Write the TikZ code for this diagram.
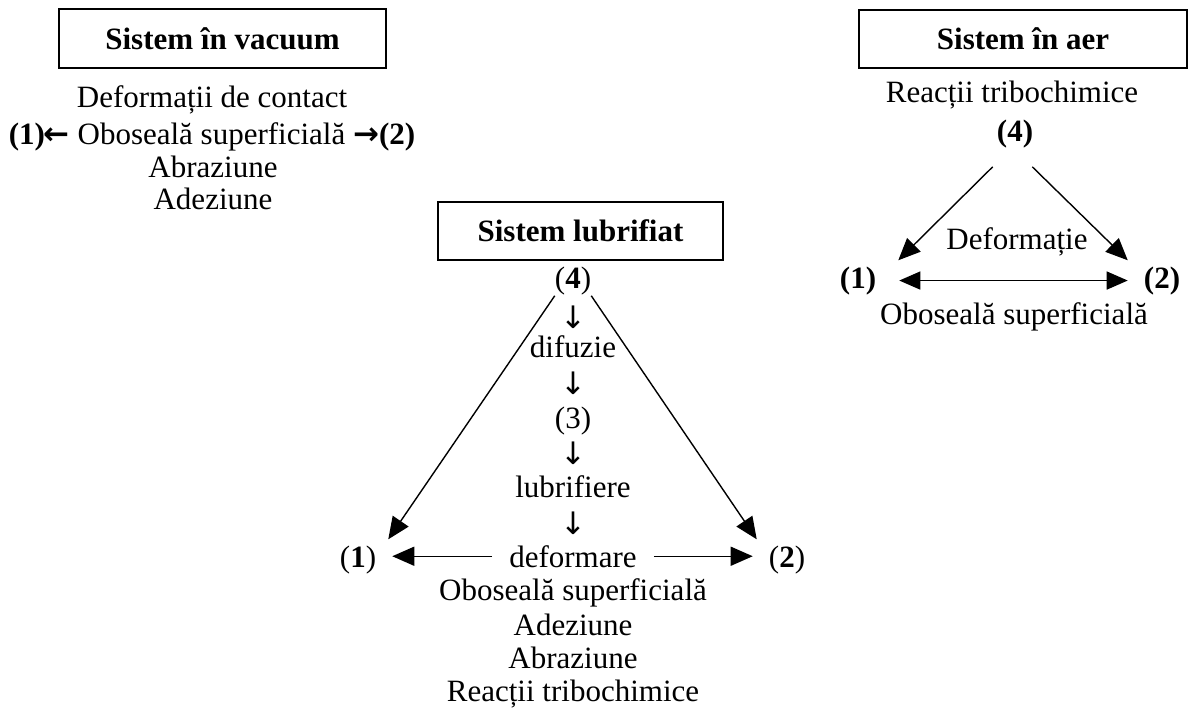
\documentclass[tikz,border=0pt]{standalone}
\usepackage{fontspec}
\setmainfont{Liberation Serif}
\newfontfamily\arrowfont{DejaVu Sans}
\usetikzlibrary{arrows.meta,calc}
\begin{document}
\begin{tikzpicture}[x=1pt,y=-1pt,
  txt/.style={font=\fontsize{31}{36}\selectfont, inner sep=0pt, anchor=base},
  glyph/.style={font=\fontsize{31}{36}\arrowfont, inner sep=0pt, anchor=center},
  titlebox/.style={draw, line width=1.6pt, inner sep=0pt, font=\fontsize{31}{36}\selectfont\bfseries},
  conn/.style={line width=1.4pt, -{Triangle[length=22pt,width=19pt]}},
  dconn/.style={line width=1.4pt, {Triangle[length=21pt,width=18pt]}-{Triangle[length=21pt,width=18pt]}}]
\useasboundingbox (0,0) rectangle (1191,711);

% ---- Sistem in vacuum
\node[titlebox, minimum width=327pt, minimum height=59pt] (vbox) at (222.5,38.5) {Sistem în vacuum};
\node[txt] (vdef) at (212,108) {Deformații de contact};
\node[txt] (vobo) at (212,145) {\textbf{(1)}{\arrowfont\bfseries\kern-1pt←} Oboseală superficială {\arrowfont\bfseries→}\textbf{(2)}};
\node[txt] (vabr) at (213,178) {Abraziune};
\node[txt] (vade) at (213,210) {Adeziune};

% ---- Sistem in aer
\node[titlebox, minimum width=328pt, minimum height=58pt] (abox) at (1023,39) {Sistem în aer};
\node[txt] (areac) at (1012,103) {Reacții tribochimice};
\node[txt] (a4) at (1015,142) {\textbf{(4)}};
\node[txt] (adef) at (1017,250) {Deformație};
\node[txt] (a1) at (858,288) {\textbf{(1)}};
\node[txt] (a2) at (1162,288) {\textbf{(2)}};
\node[txt] (aobo) at (1014,324) {Oboseală superficială};
\draw[conn] ($(a4.south west)+(-4,18)$) -- ($(a1.north east)+(22,-6)$);
\draw[conn] ($(a4.south east)+(-1,18)$) -- ($(a2.north west)+(-16,-6)$);
\draw[dconn, shorten <=23pt, shorten >=16pt] (a1.east) -- (a2.west);

% ---- Sistem lubrifiat
\node[titlebox, minimum width=285pt, minimum height=58pt] (lbox) at (580.5,231) {Sistem lubrifiat};
\node[txt] (l4) at (573,289) {(\textbf{4})};
\node[glyph] (ld1) at (573,317) {↓};
\node[txt] (ldif) at (573,357) {difuzie};
\node[glyph] (ld2) at (573,383) {↓};
\node[txt] (l3) at (573,428) {(3)};
\node[glyph] (ld3) at (573,453) {↓};
\node[txt] (llub) at (573,497) {lubrifiere};
\node[glyph] (ld4) at (573,523) {↓};
\node[txt] (ldef) at (573,567) {deformare};
\node[txt] (l1) at (358,567) {(\textbf{1})};
\node[txt] (l2) at (787,567) {(\textbf{2})};
\node[txt] (lobo) at (573,600) {Oboseală superficială};
\node[txt] (lade) at (573,635) {Adeziune};
\node[txt] (labr) at (573,668) {Abraziune};
\node[txt] (lrea) at (573,701) {Reacții tribochimice};
\draw[conn] (l4.south west) -- ($(l1.north east)+(12,-6)$);
\draw[conn] (l4.south east) -- ($(l2.north west)+(-12,-6)$);
\draw[conn, shorten <=17pt, shorten >=16pt] (ldef.west) -- (ldef.west -| l1.east);
\draw[conn, shorten <=17pt, shorten >=16pt] (ldef.east) -- (ldef.east -| l2.west);
\end{tikzpicture}
\end{document}
